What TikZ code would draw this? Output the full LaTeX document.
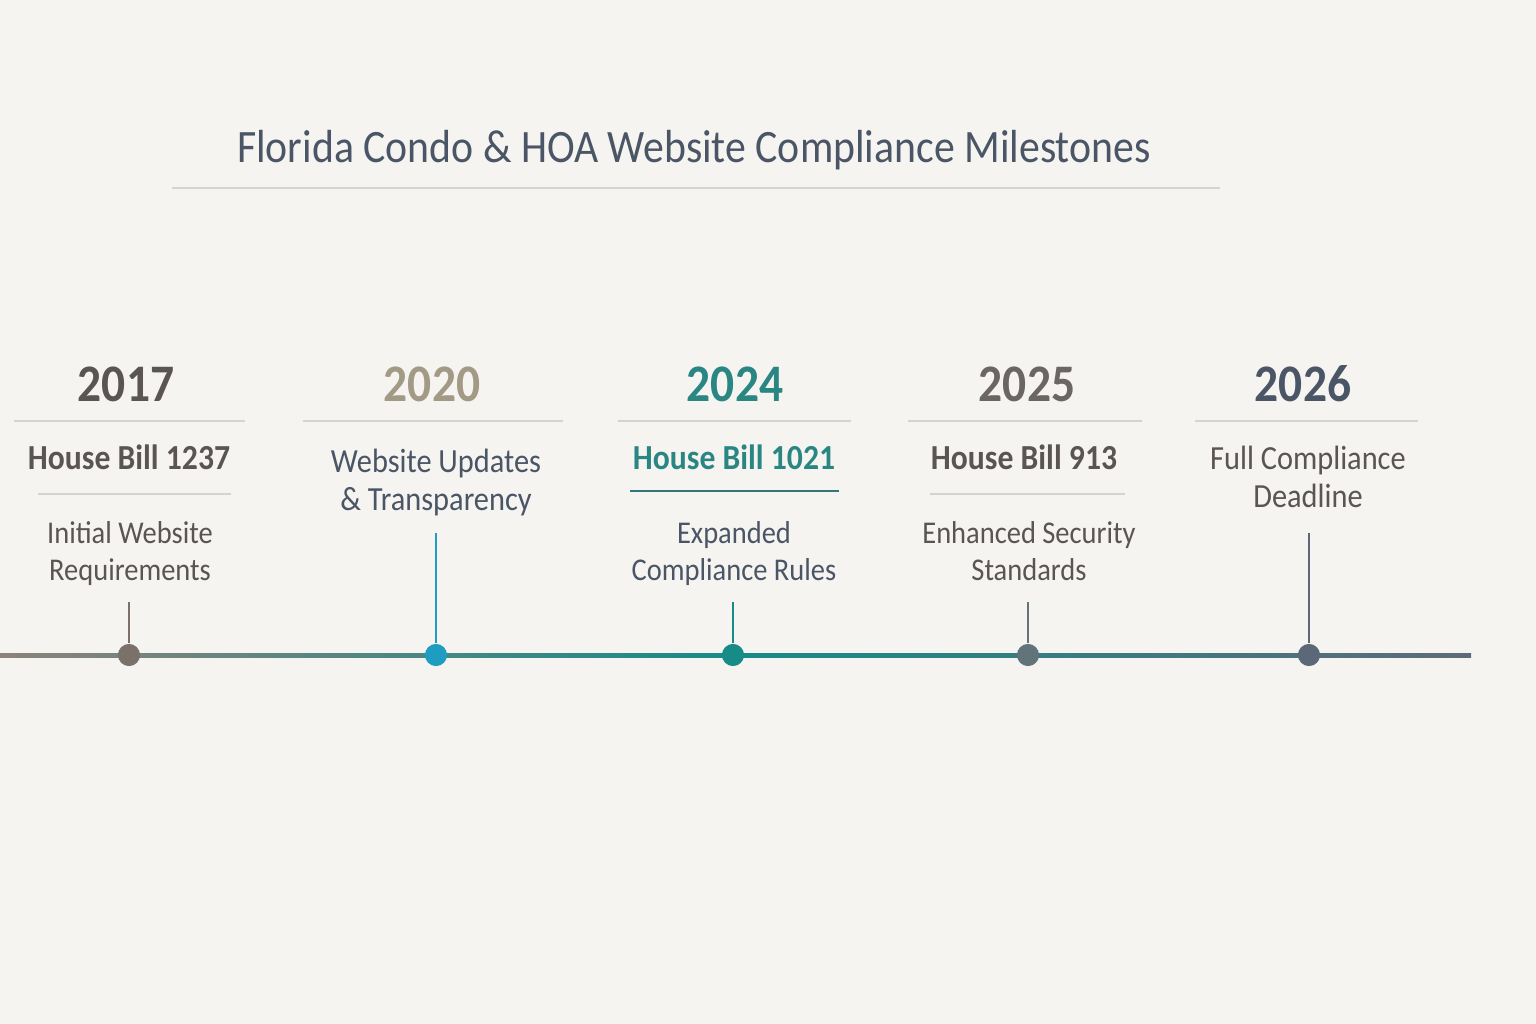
\documentclass[tikz,border=0pt]{standalone}
\usepackage{fontspec}
\setmainfont[FakeStretch=0.9]{Carlito}
\usetikzlibrary{positioning}

\definecolor{paper}{HTML}{F6F4F1}
\definecolor{rulegray}{HTML}{D6D3CF}
\definecolor{slate}{HTML}{4A5566}
\definecolor{warmgray}{HTML}{5A5552}
\definecolor{khaki}{HTML}{A39A86}
\definecolor{teal}{HTML}{2A8682}
\definecolor{dotA}{HTML}{7A716B}
\definecolor{dotB}{HTML}{1E9DC0}
\definecolor{dotC}{HTML}{178B88}
\definecolor{dotD}{HTML}{607479}
\definecolor{dotE}{HTML}{5B6878}
\definecolor{lineA}{HTML}{8C827B}
\definecolor{lineE}{HTML}{5E6B78}

\begin{document}
\begin{tikzpicture}[
    x=0.01cm, y=-0.01cm,
    titlelabel/.style={font=\fontsize{13.2}{15}\selectfont, text=slate, anchor=base, inner sep=0pt},
    yearlabel/.style={font=\fontsize{15}{18}\selectfont\bfseries, anchor=base, inner sep=0pt},
    billlabel/.style={font=\fontsize{10}{12}\selectfont\bfseries, anchor=base, inner sep=0pt},
    desclabel/.style={font=\fontsize{9}{10.5}\selectfont, anchor=base, inner sep=0pt, align=center},
    rulerline/.style={draw=rulegray, line width=0.45pt},
    stemline/.style={line width=0.55pt},
    milestone/.style={circle, inner sep=0pt, minimum size=6.3pt}
  ]

  \fill[paper] (0,0) rectangle (1536,1024);

  % title
  \node[titlelabel] (title) at (694,162) {Florida Condo \& HOA Website Compliance Milestones};
  \draw[rulerline, line width=0.6pt] (172,188) -- (1220,188);

  % years
  \node[yearlabel, text=warmgray] (y17) at (126,401) {2017};
  \node[yearlabel, text=khaki] (y20) at (432,401) {2020};
  \node[yearlabel, text=teal] (y24) at (735,401) {2024};
  \node[yearlabel, text=warmgray!90!white] (y25) at (1027,401) {2025};
  \node[yearlabel, text=slate] (y26) at (1303,401) {2026};

  \draw[rulerline] (14,421) -- (245,421);
  \draw[rulerline] (303,421) -- (563,421);
  \draw[rulerline] (618,421) -- (851,421);
  \draw[rulerline] (908,421) -- (1142,421);
  \draw[rulerline] (1195,421) -- (1418,421);

  % bills and headings (multi-line nodes sit on their last line)
  \node[billlabel, text=warmgray] (b17) at (129,469) {House Bill 1237};
  \node[billlabel, text=teal] (b24) at (734,469) {House Bill 1021};
  \node[billlabel, text=warmgray] (b25) at (1024,469) {House Bill 913};
  \node[desclabel, text=slate, font=\fontsize{9.6}{10.8}\selectfont] (h20) at (436,510) {Website Updates\\\& Transparency};
  \node[desclabel, text=warmgray, font=\fontsize{9.6}{10.6}\selectfont] (h26) at (1308,507) {Full Compliance\\Deadline};

  \draw[rulerline] (38,494) -- (231,494);
  \draw[draw=teal!70!slate, line width=0.45pt] (630,491) -- (839,491);
  \draw[rulerline] (930,494) -- (1125,494);

  % descriptions
  \node[desclabel, text=warmgray] (t17) at (130,580) {Initial Website\\Requirements};
  \node[desclabel, text=slate] (t24) at (734,580) {Expanded\\Compliance Rules};
  \node[desclabel, text=warmgray] (t25) at (1029,580) {Enhanced Security\\Standards};

  % timeline
  \shade[left color=lineA, right color=lineE, middle color=dotC] (0,653) rectangle (1471,657);

  \node[milestone, fill=dotA] (d17) at (129,655) {};
  \node[milestone, fill=dotB] (d20) at (436,655) {};
  \node[milestone, fill=dotC] (d24) at (733,655) {};
  \node[milestone, fill=dotD] (d25) at (1028,655) {};
  \node[milestone, fill=dotE] (d26) at (1309,655) {};

  \coordinate (s17) at (129,602);
  \coordinate (s20) at (436,533);
  \coordinate (s24) at (733,602);
  \coordinate (s25) at (1028,602);
  \coordinate (s26) at (1309,533);

  \draw[stemline, draw=dotA] (s17) -- (d17);
  \draw[stemline, draw=dotB] (s20) -- (d20);
  \draw[stemline, draw=dotC] (s24) -- (d24);
  \draw[stemline, draw=dotD] (s25) -- (d25);
  \draw[stemline, draw=dotE] (s26) -- (d26);

\end{tikzpicture}
\end{document}
